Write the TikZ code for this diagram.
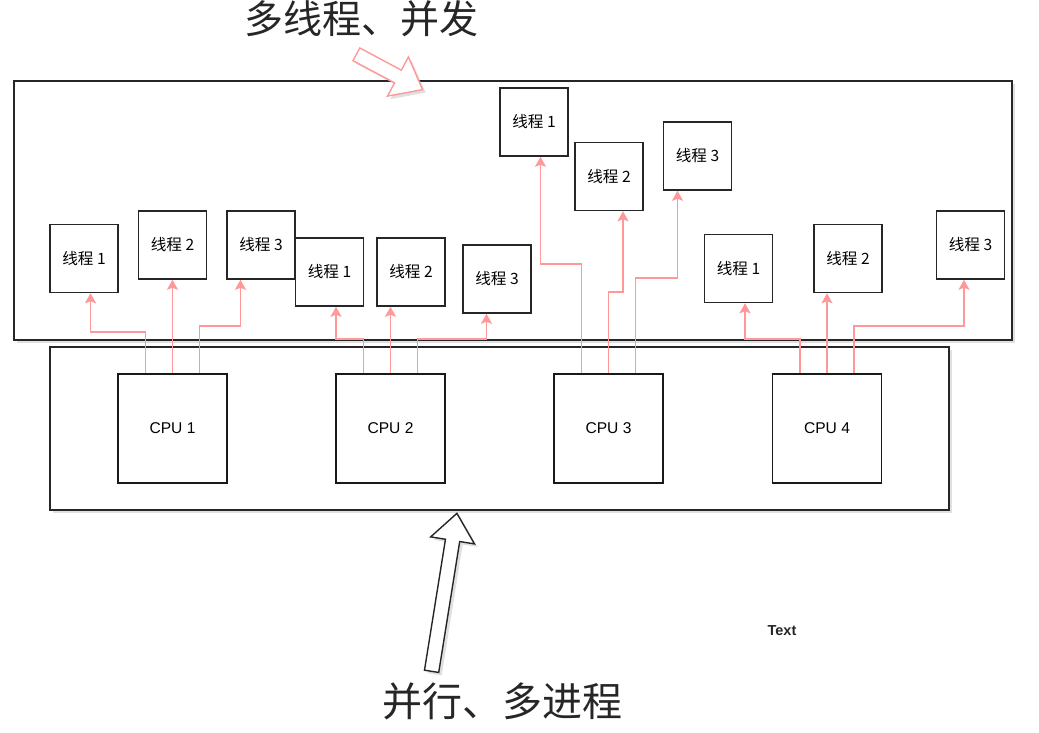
\documentclass[tikz,border=0pt]{standalone}
\usepackage{fontspec}
\setmainfont{Liberation Sans}
\newfontfamily\cjk{Noto Sans CJK SC}
\usetikzlibrary{shapes.arrows, shadows, arrows.meta}
\definecolor{linkpink}{HTML}{FF9999}

\begin{document}
\begin{tikzpicture}[x=1pt, y=-1pt,
  frame/.style={draw=black!85, line width=1.5pt, fill=white, inner sep=0pt,
    drop shadow={shadow xshift=3pt, shadow yshift=-3pt, opacity=0.3, fill=black!40}},
  thread/.style={draw=black!85, line width=1.5pt, fill=white, minimum size=68pt,
    inner sep=0pt, font=\cjk\fontsize{15.6}{18}\selectfont},
  cpu/.style={draw=black!90, line width=1.5pt, fill=white, minimum size=109pt,
    inner sep=0pt, font=\fontsize{15.6}{18}\selectfont},
  link/.style={draw=linkpink, line width=1.6pt, -{Stealth[length=10pt, width=11pt, inset=2pt]}},
  bigarrow/.style={single arrow, fill=white, line width=1.4pt, inner sep=6.5pt,
    single arrow head extend=15pt, anchor=tail,
    drop shadow={shadow xshift=3pt, shadow yshift=-3pt, opacity=0.3, fill=black!40}},
  title/.style={font=\cjk\fontsize{39}{44}\selectfont, text=black!85}]

\useasboundingbox (0,0) rectangle (1039,732);

% containers
\node[frame, minimum width=998pt, minimum height=259pt] (conc) at (513,210.5) {};
\node[frame, minimum width=899pt, minimum height=163pt] (par) at (499.5,428.5) {};

% cpus
\node[cpu] (cpu1) at (172.5,428.5) {CPU 1};
\node[cpu] (cpu2) at (390.5,428.5) {CPU 2};
\node[cpu] (cpu3) at (608.5,428.5) {CPU 3};
\node[cpu] (cpu4) at (827,428.5) {CPU 4};

% threads
\node[thread] (a1) at (84,258.5) {线程 1};
\node[thread] (a2) at (172.5,245) {线程 2};
\node[thread] (a3) at (261,245) {线程 3};
\node[thread] (b1) at (329.5,272) {线程 1};
\node[thread] (b2) at (411,272) {线程 2};
\node[thread] (b3) at (497,279) {线程 3};
\node[thread] (c1) at (534,122) {线程 1};
\node[thread] (c2) at (609,176.5) {线程 2};
\node[thread] (c3) at (697.5,156) {线程 3};
\node[thread] (d1) at (738.5,268.5) {线程 1};
\node[thread] (d2) at (848,258.5) {线程 2};
\node[thread] (d3) at (970.5,245) {线程 3};

% cpu -> thread
\draw[link] ([xshift=-27pt]cpu1.north) -- ++(0,-41) -| ([xshift=6.5pt]a1.south);
\draw[link] (cpu1.north) -- (a2.south);
\draw[link] ([xshift=27pt]cpu1.north) -- ++(0,-47) -| ([xshift=-20.5pt]a3.south);
\draw[link] ([xshift=-27pt]cpu2.north) -- ++(0,-34) -| ([xshift=6.5pt]b1.south);
\draw[link] (cpu2.north) -- (cpu2.north |- b2.south);
\draw[link] ([xshift=27pt]cpu2.north) -- ++(0,-34) -| ([xshift=-10.5pt]b3.south);
\draw[link] ([xshift=-27pt]cpu3.north) -- ++(0,-109) -| ([xshift=6.5pt]c1.south);
\draw[link] (cpu3.north) -- ++(0,-81) -| ([xshift=14pt]c2.south);
\draw[link] ([xshift=27pt]cpu3.north) -- ++(0,-95) -| ([xshift=-20pt]c3.south);
\draw[link] ([xshift=-27pt]cpu4.north) -- ++(0,-34) -| ([xshift=6.5pt]d1.south);
\draw[link] (cpu4.north) -- (cpu4.north |- d2.south);
\draw[link] ([xshift=27pt]cpu4.north) -- ++(0,-47) -| ([xshift=-6.5pt]d3.south);

% hollow arrows and titles
\node[bigarrow, draw=linkpink, rotate=-28.1, minimum height=75pt,
  single arrow tip angle=77] (concarrow) at (355.8,54) {};
\node[bigarrow, draw=black!85, rotate=80.9, minimum height=160pt,
  single arrow tip angle=78] (pararrow) at (431.5,672) {};
\node[title] (conctitle) at (361,19) {多线程、并发};
\node[title, font=\cjk\fontsize{40}{45}\selectfont] (partitle) at (502,701) {并行、多进程};
\node[font=\bfseries\fontsize{14.5}{17}\selectfont, text=black!85] (extra) at (782,631) {Text};
\end{tikzpicture}
\end{document}
